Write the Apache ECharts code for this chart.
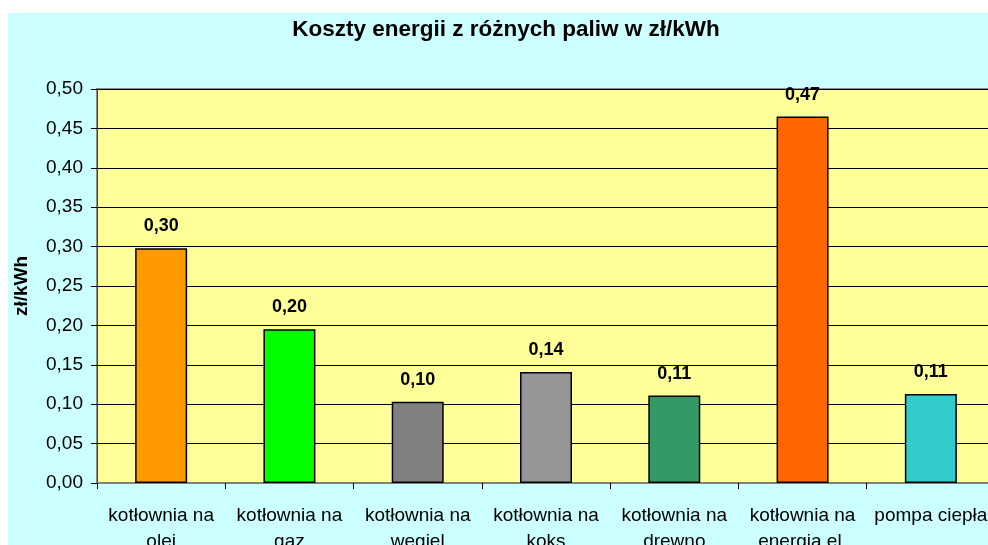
<!DOCTYPE html>
<html>
<head>
<meta charset="utf-8">
<script src="https://cdn.jsdelivr.net/npm/echarts@6/dist/echarts.min.js"></script>
<style>
  html, body { margin: 0; padding: 0; background: #fff; overflow: hidden; }
  #chart { width: 996px; height: 545px; }
</style>
</head>
<body>
<div id="chart"></div>
<script>
// data
var categories = [
  'kotłownia na\nolej',
  'kotłownia na\ngaz',
  'kotłownia na\nwęgiel',
  'kotłownia na\nkoks',
  'kotłownia na\ndrewno',
  'kotłownia na\nenergia el.',
  'pompa ciepła'
]
var costs = [0.298, 0.195, 0.103, 0.141, 0.111, 0.465, 0.113]
var barColors = ['#FF9900', '#00FF00', '#808080', '#969696', '#339966', '#FF6600', '#33CCCC']

var font = '"Liberation Sans", Arial, sans-serif'

function fmt(v) {
  return Number(v).toFixed(2).replace('.', ',')
}

var chart = echarts.init(document.getElementById('chart'))

chart.setOption({
  backgroundColor: '#ffffff',
  animation: false,
  graphic: [{
    type: 'rect',
    left: 8,
    top: 13,
    z: -10,
    shape: { width: 990, height: 532 },
    style: { fill: '#CCFFFF' }
  }],
  title: {
    text: 'Koszty energii z różnych paliw w zł/kWh',
    left: 501,
    textAlign: 'center',
    top: 13,
    textStyle: {
      fontFamily: font,
      fontSize: 22.5,
      fontWeight: 'bold',
      color: '#000'
    }
  },
  grid: {
    left: 97,
    top: 89,
    right: 1,
    bottom: 62,
    outerBoundsMode: 'none',
    containLabel: false,
    show: true,
    backgroundColor: '#FFFF99',
    borderColor: '#909090',
    borderWidth: 2
  },
  xAxis: {
    type: 'category',
    data: categories,
    axisLine: { lineStyle: { color: '#808080', width: 2 } },
    axisTick: { show: true, length: 6, lineStyle: { color: '#000' } },
    axisLabel: {
      interval: 0,
      margin: 20,
      fontFamily: font,
      fontSize: 19,
      lineHeight: 26,
      color: '#000'
    }
  },
  yAxis: {
    type: 'value',
    min: 0,
    max: 0.5,
    interval: 0.05,
    name: 'zł/kWh',
    nameLocation: 'middle',
    nameGap: 66,
    nameTextStyle: {
      fontFamily: font,
      fontSize: 19,
      fontWeight: 'bold',
      color: '#000'
    },
    axisLine: { show: true, lineStyle: { color: '#404040', width: 1 } },
    axisTick: { show: true, length: 6, lineStyle: { color: '#000' } },
    axisLabel: {
      margin: 14,
      fontFamily: font,
      fontSize: 19,
      color: '#000',
      formatter: fmt
    },
    splitLine: { lineStyle: { color: '#000', width: 1 } }
  },
  series: [{
    type: 'bar',
    barWidth: 52,
    data: costs.map(function (v, i) {
      return { value: v, itemStyle: { color: barColors[i] } }
    }),
    itemStyle: { borderColor: '#000', borderWidth: 1.5 },
    label: {
      show: true,
      position: 'top',
      distance: 13,
      fontFamily: font,
      fontSize: 18,
      fontWeight: 'bold',
      color: '#000',
      formatter: function (p) { return fmt(p.value) }
    }
  }]
})
</script>
</body>
</html>
